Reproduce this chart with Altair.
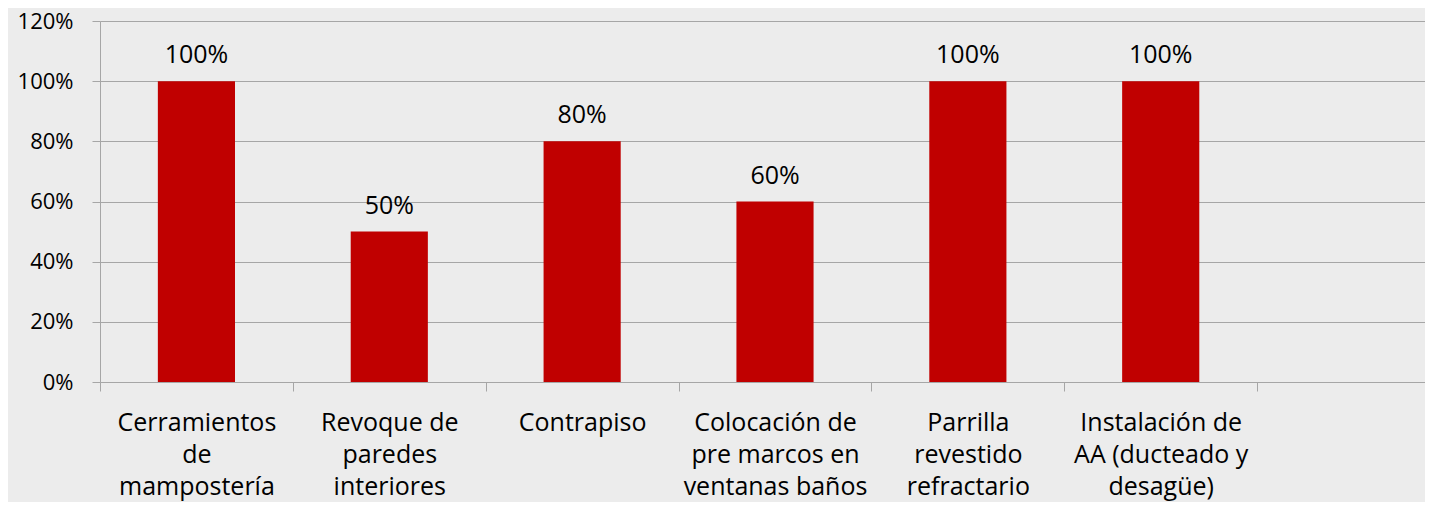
import altair as alt
import pandas as pd

categories = [
    "Cerramientos\nde\nmampostería",
    "Revoque de\nparedes\ninteriores",
    "Contrapiso",
    "Colocación de\npre marcos en\nventanas baños",
    "Parrilla\nrevestido\nrefractario",
    "Instalación de\nAA (ducteado y\ndesagüe)",
]
values = [1.0, 0.5, 0.8, 0.6, 1.0, 1.0]
y_ticks = [0, 0.2, 0.4, 0.6, 0.8, 1.0, 1.2]
x_domain = categories + [" "]

df = pd.DataFrame({"cat": categories, "val": values})

GRID = "#a6a6a6"
FONT = "Open Sans"

x = alt.X(
    "cat:N",
    scale=alt.Scale(domain=x_domain, range=[0, 1350], paddingInner=0, paddingOuter=0),
    axis=alt.Axis(
        title=None,
        labelAngle=0,
        tickBand="extent",
        tickSize=9,
        tickColor=GRID,
        domainColor=GRID,
        labelPadding=19,
        labelFontSize=25,
        labelLineHeight=32,
        labelBaseline="top",
        labelLimit=0,
        labelExpr="split(datum.label, '\\n')",
        grid=False,
    ),
)
y = alt.Y(
    "val:Q",
    scale=alt.Scale(domain=[0, 1.2], nice=False),
    axis=alt.Axis(
        title=None,
        values=y_ticks,
        format=".0%",
        tickSize=8,
        tickColor=GRID,
        domainColor=GRID,
        gridColor=GRID,
        labelFontSize=22,
        labelPadding=19,
    ),
)

bars = alt.Chart(df).mark_bar(color="#c00000", width=alt.RelativeBandSize(0.4)).encode(x=x, y=y)
labels = alt.Chart(df).mark_text(
    baseline="alphabetic", dy=-18, fontSize=25, font=FONT, color="#000000"
).encode(x=alt.X("cat:N", scale=alt.Scale(domain=x_domain)), y="val:Q", text=alt.Text("val:Q", format=".0%"))

chart = (
    alt.layer(bars, labels)
    .properties(
        width=1325,
        height=361,
        padding={"left": 92, "top": 13, "right": 0, "bottom": 120},
        autosize="none",
        background="#ececec",
    )
    .configure_view(stroke=None)
    .configure_axis(labelFont=FONT, labelColor="#000000")
)

chart.save("out.html", embed_options={"renderer": "svg", "actions": False})
